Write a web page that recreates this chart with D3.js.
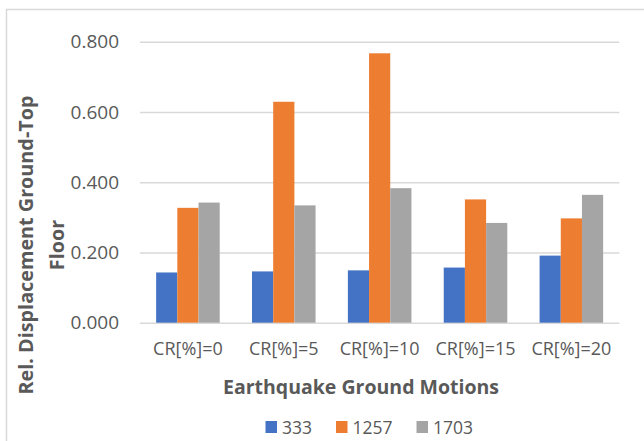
<!DOCTYPE html>
<html lang="en">
<head>
    <meta charset="UTF-8">
    <title>Relative Displacement by Ground Motion</title>
    <script src="https://d3js.org/d3.v7.min.js"></script>
    <style>
        body { margin: 0; background: #fff; }
        .tick text { font-family: "Open Sans", sans-serif; fill: #595959; }
        .grid line { stroke: #d9d9d9; stroke-width: 1.5px; }
        .axis-title { font-family: "Open Sans", sans-serif; font-weight: bold; fill: #595959; }
        .legend-text { font-family: "Open Sans", sans-serif; fill: #595959; }
    </style>
</head>
<body>
    <div id="chart"></div>
    <script>
        // Data
        const categories = ["CR[%]=0", "CR[%]=5", "CR[%]=10", "CR[%]=15", "CR[%]=20"];
        const seriesNames = ["333", "1257", "1703"];
        const values333  = [0.143, 0.146, 0.149, 0.157, 0.191];
        const values1257 = [0.327, 0.629, 0.767, 0.351, 0.297];
        const values1703 = [0.342, 0.334, 0.383, 0.284, 0.364];
        const yTicks = [0, 0.2, 0.4, 0.6, 0.8];
        const colors = ["#4472C4", "#ED7D31", "#A5A5A5"];

        const seriesValues = [values333, values1257, values1703];

        const W = 644, H = 441;
        const plot = { left: 140, right: 619.3, top: 41.7, bottom: 322.7 };

        const svg = d3.select("#chart")
                      .append("svg")
                      .attr("width", W)
                      .attr("height", H);

        // Outer frame (only top and left edges are visible in the picture)
        svg.append("path")
           .attr("d", `M6.5,${H} L6.5,9.5 L${W},9.5`)
           .attr("fill", "none")
           .attr("stroke", "#d9d9d9")
           .attr("stroke-width", 1.5);

        // Scales
        const x0 = d3.scaleBand()
                     .domain(categories)
                     .range([plot.left, plot.right])
                     .paddingInner(0.337)
                     .paddingOuter(0.1685);

        const x1 = d3.scaleBand()
                     .domain(seriesNames)
                     .range([0, x0.bandwidth()]);

        const y = d3.scaleLinear()
                    .domain([0, 0.8])
                    .range([plot.bottom, plot.top]);

        // Gridlines + y tick labels
        const yAxis = svg.append("g")
           .attr("class", "grid")
           .attr("transform", `translate(${plot.left},0)`)
           .call(d3.axisLeft(y)
                   .tickValues(yTicks)
                   .tickSize(-(plot.right - plot.left))
                   .tickPadding(21)
                   .tickFormat(d3.format(".3f")));
        yAxis.select(".domain").remove();
        yAxis.selectAll("text").style("font-size", "19px");

        // Bars
        const groups = svg.append("g")
           .selectAll("g")
           .data(categories)
           .join("g")
           .attr("transform", d => `translate(${x0(d)},0)`);

        groups.selectAll("rect")
           .data((c, i) => seriesNames.map((s, j) => ({ s: s, v: seriesValues[j][i], c: colors[j] })))
           .join("rect")
           .attr("x", d => x1(d.s))
           .attr("width", x1.bandwidth())
           .attr("y", d => y(d.v))
           .attr("height", d => y(0) - y(d.v))
           .attr("fill", d => d.c);

        // Category labels
        const xAxis = svg.append("g")
           .attr("transform", `translate(0,${plot.bottom})`)
           .call(d3.axisBottom(x0).tickSize(0).tickPadding(20));
        xAxis.select(".domain").remove();
        xAxis.selectAll("text").style("font-size", "18px");

        // X axis title
        svg.append("text")
           .attr("class", "axis-title")
           .attr("x", 361)
           .attr("y", 394)
           .attr("text-anchor", "middle")
           .style("font-size", "19.5px")
           .text("Earthquake Ground Motions");

        // Y axis title, two lines
        const yTitle = svg.append("text")
           .attr("class", "axis-title")
           .attr("transform", "translate(0,245) rotate(-90)")
           .attr("text-anchor", "middle")
           .style("font-size", "19.8px");
        yTitle.append("tspan").attr("x", 0).attr("y", 33).text("Rel. Displacement Ground-Top");
        yTitle.append("tspan").attr("x", 0).attr("y", 64).text("Floor");

        // Legend
        const legendX = [265.5, 336, 416.5];
        const legend = svg.append("g")
           .selectAll("g")
           .data(seriesNames)
           .join("g")
           .attr("transform", (d, i) => `translate(${legendX[i]},421)`);
        legend.append("rect")
           .attr("width", 11.5)
           .attr("height", 12)
           .attr("fill", (d, i) => colors[i]);
        legend.append("text")
           .attr("class", "legend-text")
           .attr("x", 16.5)
           .attr("y", 12.5)
           .style("font-size", "17.5px")
           .text(d => d);
    </script>
</body>
</html>
